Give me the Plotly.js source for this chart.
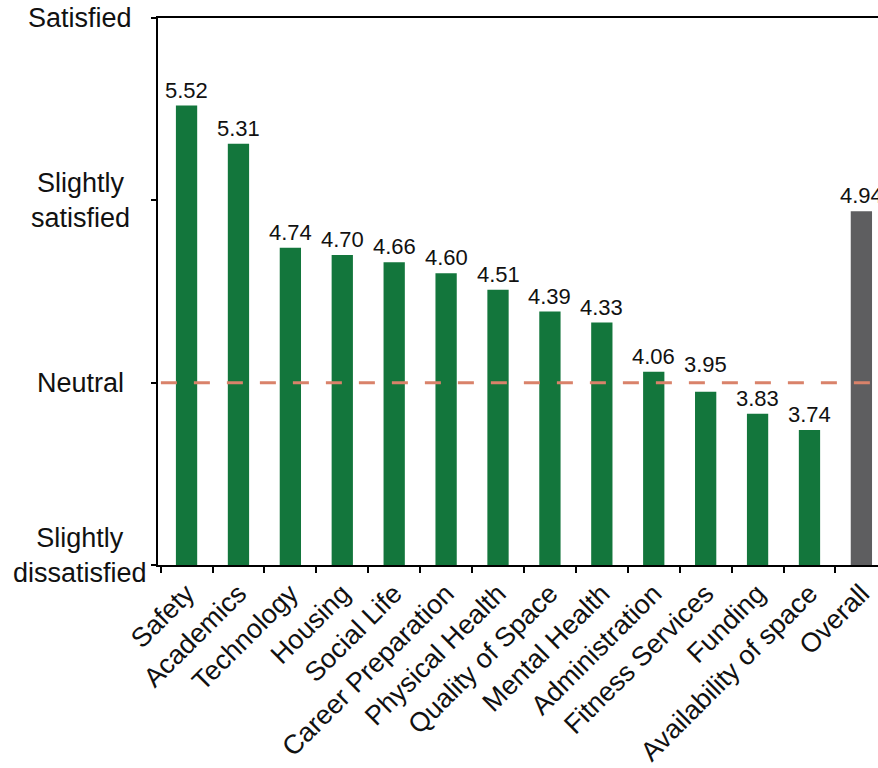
<!DOCTYPE html>
<html>
<head>
<meta charset="utf-8">
<script src="https://cdn.plot.ly/plotly-3.0.1.min.js"></script>
<style>html,body{margin:0;padding:0;background:#fff;}#chart{width:878px;height:768px;}</style>
</head>
<body>
<div id="chart"></div>
<script>
const categories = ["Safety","Academics","Technology","Housing","Social Life","Career Preparation","Physical Health","Quality of Space","Mental Health","Administration","Fitness Services","Funding","Availability of space","Overall"];
const values = [5.52,5.31,4.74,4.70,4.66,4.60,4.51,4.39,4.33,4.06,3.95,3.83,3.74,4.94];
const scaleVals = [3,4,5,6];
const scaleText = ["Slightly<br>dissatisfied","Neutral","Slightly<br>satisfied","Satisfied"];
const neutral = 4;

const GREEN = "#13763c", GRAY = "#5e5e60";
const colors = categories.map(c => c === "Overall" ? GRAY : GREEN);
const FONT = "Liberation Sans, Arial, Helvetica, sans-serif";

const trace = {
  type: "bar",
  x: categories,
  y: values,
  base: 0,
  width: 0.41,
  marker: {color: colors, line: {width: 0}},
  hoverinfo: "skip"
};

const annotations = [];
values.forEach((v, i) => {
  const nearLine = v < neutral && v > neutral - 0.12;
  annotations.push({
    x: categories[i], y: nearLine ? neutral : v, xref: "x", yref: "y",
    text: v.toFixed(2), showarrow: false, yanchor: "bottom", xanchor: "center",
    yshift: nearLine ? 4 : 1,
    font: {family: FONT, size: 22, color: "#111"}
  });
});
scaleVals.forEach((v, i) => {
  annotations.push({
    x: -0.108, xref: "paper", y: v, yref: "y",
    text: scaleText[i], showarrow: false, xanchor: "center", yanchor: "middle",
    align: "center", yshift: v === 3 ? 10 : 0,
    font: {family: FONT, size: 27, color: "#111"}
  });
});

const layout = {
  width: 878, height: 768,
  margin: {l: 158, r: 0, t: 18, b: 203, pad: 0},
  paper_bgcolor: "#fff", plot_bgcolor: "#fff",
  showlegend: false,
  font: {family: FONT, color: "#111"},
  xaxis: {
    type: "category",
    range: [-0.55, 13.32],
    showline: true, linewidth: 2, linecolor: "#000", mirror: true,
    ticks: "outside", tickson: "boundaries", ticklen: 6, tickwidth: 2, tickcolor: "#000",
    tickangle: -45, tickfont: {family: FONT, size: 27, color: "#111"},
    showgrid: false, zeroline: false, fixedrange: true
  },
  yaxis: {
    range: [3, 6],
    showline: true, linewidth: 2, linecolor: "#000",
    ticks: "outside", ticklen: 5, tickwidth: 2, tickcolor: "#000",
    tickvals: scaleVals, showticklabels: false,
    showgrid: false, zeroline: false, fixedrange: true
  },
  shapes: [{
    type: "line", xref: "paper", yref: "y", x0: 0.004, x1: 1, y0: neutral, y1: neutral,
    line: {color: "#d9826a", width: 3, dash: "16px,17px"}, layer: "above"
  }],
  annotations: annotations
};

Plotly.newPlot("chart", [trace], layout, {displayModeBar: false, staticPlot: true});
</script>
</body>
</html>
